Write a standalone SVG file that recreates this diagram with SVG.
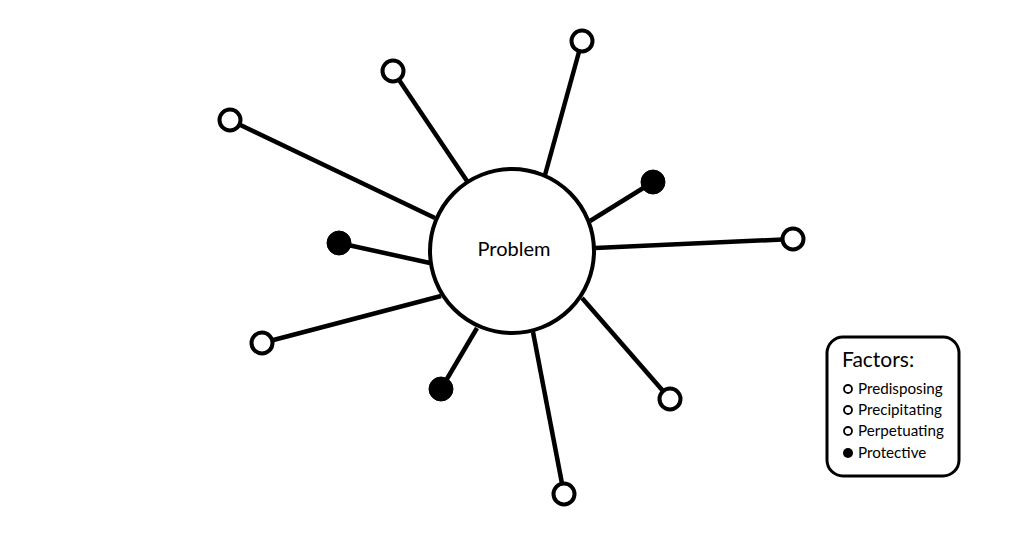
<svg xmlns="http://www.w3.org/2000/svg" width="1024" height="536" viewBox="0 0 1024 536">
<style>
.ln{stroke:#000;stroke-width:4.5;stroke-linecap:butt;fill:none}
.open{fill:#fff;stroke:#000;stroke-width:4}
.fill{fill:#000;stroke:#000;stroke-width:1}
.t{font-family:Lato,"Liberation Sans",sans-serif;fill:#000}
</style>
<rect width="1024" height="536" fill="#fff"/>
<g id="connectors">
<line class="ln" x1="435" y1="218" x2="230" y2="120"/>
<line class="ln" x1="467" y1="181" x2="393" y2="71"/>
<line class="ln" x1="545" y1="175" x2="582" y2="41"/>
<line class="ln" x1="590" y1="221" x2="653" y2="182"/>
<line class="ln" x1="595" y1="248" x2="793" y2="239"/>
<line class="ln" x1="582" y1="298" x2="670" y2="399"/>
<line class="ln" x1="533" y1="332" x2="564" y2="494"/>
<line class="ln" x1="477" y1="328" x2="441" y2="389"/>
<line class="ln" x1="441" y1="296" x2="262" y2="343"/>
<line class="ln" x1="430" y1="263" x2="339" y2="243"/>
</g>
<g id="problem">
<circle cx="512" cy="251" r="82" fill="#fff" stroke="#000" stroke-width="4"/>
<text class="t" x="514" y="256" font-size="20" text-anchor="middle">Problem</text>
</g>
<g id="n1"><circle class="open" cx="230" cy="120" r="10.5"/></g>
<g id="n2"><circle class="open" cx="393" cy="71" r="10.5"/></g>
<g id="n3"><circle class="open" cx="582" cy="41" r="10.5"/></g>
<g id="n4"><circle class="fill" cx="653" cy="182" r="12"/></g>
<g id="n5"><circle class="open" cx="793" cy="239" r="10.5"/></g>
<g id="n6"><circle class="open" cx="670" cy="399" r="10.5"/></g>
<g id="n7"><circle class="open" cx="564" cy="494" r="10.5"/></g>
<g id="n8"><circle class="fill" cx="441" cy="389" r="12"/></g>
<g id="n9"><circle class="open" cx="262" cy="343" r="10.5"/></g>
<g id="n10"><circle class="fill" cx="339" cy="243" r="12"/></g>
<g id="legend">
<rect x="827" y="337" width="132" height="139" rx="16" fill="#fff" stroke="#000" stroke-width="3"/>
<text class="t" x="842" y="367" font-size="21">Factors:</text>
<circle cx="848" cy="389" r="4" fill="#fff" stroke="#000" stroke-width="1.8"/>
<text class="t" x="858" y="394" font-size="15.2">Predisposing</text>
<circle cx="848" cy="410" r="4" fill="#fff" stroke="#000" stroke-width="1.8"/>
<text class="t" x="858" y="415" font-size="15.2">Precipitating</text>
<circle cx="848" cy="431" r="4" fill="#fff" stroke="#000" stroke-width="1.8"/>
<text class="t" x="858" y="436" font-size="15.2">Perpetuating</text>
<circle cx="848" cy="453" r="5" fill="#000"/>
<text class="t" x="858" y="458" font-size="15.2">Protective</text>
</g>
</svg>
